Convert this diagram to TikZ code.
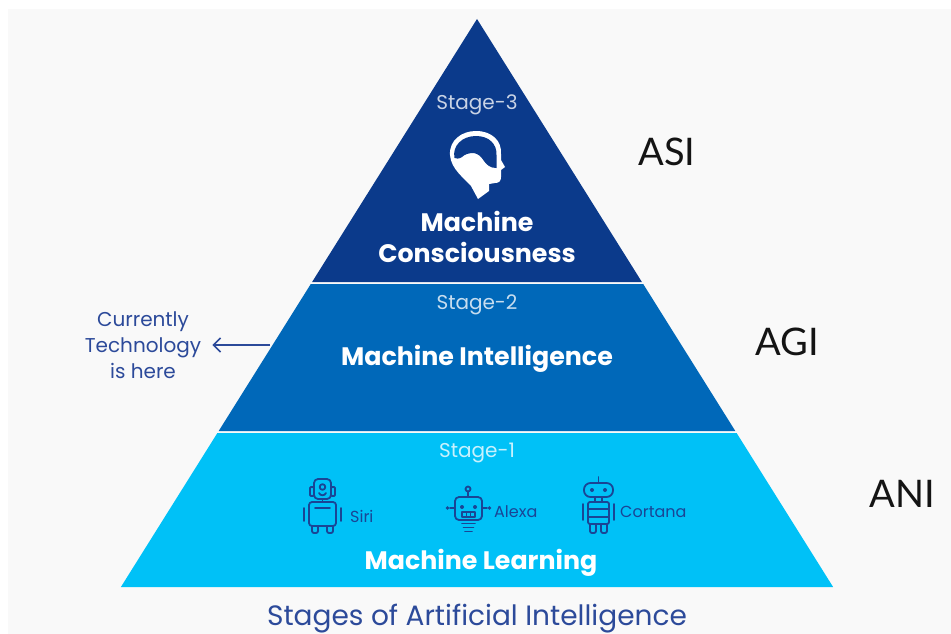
\documentclass[tikz,border=0pt]{standalone}
\usepackage{fontspec}
\setmainfont{Poppins}
\newfontfamily\latofont{Lato}
\usetikzlibrary{arrows.meta}
\definecolor{bgc}{HTML}{F9F9F9}
\definecolor{lay1}{HTML}{0B3A8B}
\definecolor{lay2}{HTML}{0068B9}
\definecolor{lay3}{HTML}{00C1F7}
\definecolor{navy}{HTML}{2C4A9A}
\definecolor{robo}{HTML}{1A4595}
\definecolor{lvl}{HTML}{141414}
\begin{document}
\begin{tikzpicture}[x=1pt,y=-1pt,
  stagelbl/.style={anchor=base, inner sep=0, text=white, text opacity=0.78, font=\fontsize{20}{24}\selectfont},
  titlelbl/.style={anchor=base, inner sep=0, text=white, font=\bfseries\fontsize{25.3}{30}\selectfont},
  levellbl/.style={anchor=base, inner sep=0, text=lvl, font=\latofont\fontsize{38}{44}\selectfont},
  robotlbl/.style={anchor=base west, inner sep=0, text=robo, font=\fontsize{16}{18}\selectfont},
  robot/.style={draw=robo, line width=1.8pt, line cap=round, line join=round},
  leftlbl/.style={anchor=base, inner sep=0, text=navy, font=\fontsize{20}{24}\selectfont},
  caption/.style={anchor=base, inner sep=0, text=navy, font=\fontsize{28}{32}\selectfont},
  arr/.style={draw=navy, line width=1.7pt, -{Straight Barb[length=7pt,width=14pt]}}
]
\useasboundingbox (0,0) rectangle (951,634);
\fill[white] (0,0) rectangle (951,634);
\fill[bgc] (8,9) rectangle (951,634);

% pyramid layers
\fill[lay1] (477,19) -- (641.9,282) -- (312.1,282) -- cycle;
\fill[lay2] (310.8,284) -- (643.2,284) -- (735.3,431) -- (218.7,431) -- cycle;
\fill[lay3] (217.4,433) -- (736.6,433) -- (833.1,587) -- (120.9,587) -- cycle;

% stage 3
\node[stagelbl] (s3) at (477,110) {Stage-3};
% head icon
\fill[white] (478,199) -- (471,186) .. controls (464,178) and (451,169) .. (450,155)
  .. controls (449,140) and (462,131) .. (476,131) .. controls (492,131) and (502,141) .. (501,154)
  -- (501,160) -- (505,167) -- (501,170) -- (501,177) .. controls (501,181) and (499,183) .. (495,183)
  -- (489,184) -- (489,191) -- cycle;
\fill[lay1] (454.5,158) .. controls (452,146) and (462,136) .. (476,136)
  .. controls (489,136) and (497,144) .. (496.5,155) -- (496.5,168)
  .. controls (490,168) and (487,165) .. (484,161)
  .. controls (481,156) and (478,154) .. (474,153)
  .. controls (469,153) and (465,154) .. (462,157)
  .. controls (459,159) and (456,159) .. (454.5,158) -- cycle;
\node[titlelbl] (t3a) at (477,231) {Machine};
\node[titlelbl] (t3b) at (477,262) {Consciousness};

% stage 2
\node[stagelbl] (s2) at (477,309) {Stage-2};
\node[titlelbl] (t2) at (477,365) {Machine Intelligence};

% stage 1
\node[stagelbl] (s1) at (477,457) {Stage-1};
\node[titlelbl] (t1) at (481,569) {Machine Learning};

% Siri robot
\draw[robot, rounded corners=4] (314,479) rectangle (331,499);
\draw[robot, rounded corners=1] (310,487) rectangle (314,496);
\draw[robot, rounded corners=1] (331,487) rectangle (335,496);
\draw[robot] (322.5,487) circle (2.8);
\draw[robot] (319,493) .. controls (320,496) and (325,496) .. (326,493);
\draw[robot] (322.5,499) -- (322.5,502);
\draw[robot, rounded corners=3] (309,502) rectangle (336,526);
\draw[robot] (315,508) -- (330,508);
\draw[robot] (304,508) -- (304,521);
\draw[robot] (341,508) -- (341,521);
\draw[robot, rounded corners=2] (312,526) -- (312,533) -- (318,533) -- (318,526);
\draw[robot, rounded corners=2] (327,526) -- (327,533) -- (333,533) -- (333,526);
\node[robotlbl] (siri) at (350,522) {Siri};

% Alexa robot
\draw[robot] (468,489) circle (2.5);
\draw[robot] (468,491.5) -- (468,497);
\draw[robot, rounded corners=4] (455,497) rectangle (482,520);
\fill[robo] (462,507) circle (2);
\fill[robo] (475,507) circle (2);
\draw[robot, line width=1.5pt] (462,512) rectangle (475,517);
\draw[robot, line width=1.2pt] (466.5,512) -- (466.5,517) (470.5,512) -- (470.5,517);
\draw[robot] (455,508) -- (450,508);
\fill[robo] (447.5,508) circle (1.8);
\draw[robot] (482,508) -- (487,508);
\fill[robo] (489.5,508) circle (1.8);
\draw[robot] (462,523.5) -- (475,523.5);
\draw[robot] (463.5,527.5) -- (473.5,527.5);
\draw[robot] (465,531.5) -- (472,531.5);
\node[robotlbl] (alexa) at (494,517) {Alexa};

% Cortana robot
\draw[robot] (598.5,477) -- (598.5,483);
\draw[robot, rounded corners=6.5] (584,483) rectangle (613,497);
\fill[robo] (592,490) circle (2);
\fill[robo] (605,490) circle (2);
\draw[robot] (595,497) -- (595,502) (602,497) -- (602,502);
\draw[robot, rounded corners=2] (588,502) rectangle (609,524);
\draw[robot] (588,509) -- (609,509);
\draw[robot] (588,517) -- (609,517);
\draw[robot] (583,504) -- (583,520);
\draw[robot] (614,504) -- (614,520);
\draw[robot, rounded corners=2] (590,524) -- (590,533) -- (596,533) -- (596,524);
\draw[robot, rounded corners=2] (601,524) -- (601,533) -- (607,533) -- (607,524);
\node[robotlbl] (cortana) at (620,517) {Cortana};

% level labels
\node[levellbl] (asi) at (667,165) {ASI};
\node[levellbl] (agi) at (787,355) {AGI};
\node[levellbl] (ani) at (902,507) {ANI};

% left note
\node[leftlbl] (cur1) at (143,326) {Currently};
\node[leftlbl] (cur2) at (143,352) {Technology};
\node[leftlbl] (cur3) at (143,378) {is here};
\coordinate (arrS) at (270,345);
\draw[arr] (arrS) -- ([xshift=11pt]cur2.east |- arrS);

% caption
\node[caption] (cap) at (477,625) {Stages of Artificial Intelligence};
\end{tikzpicture}
\end{document}
